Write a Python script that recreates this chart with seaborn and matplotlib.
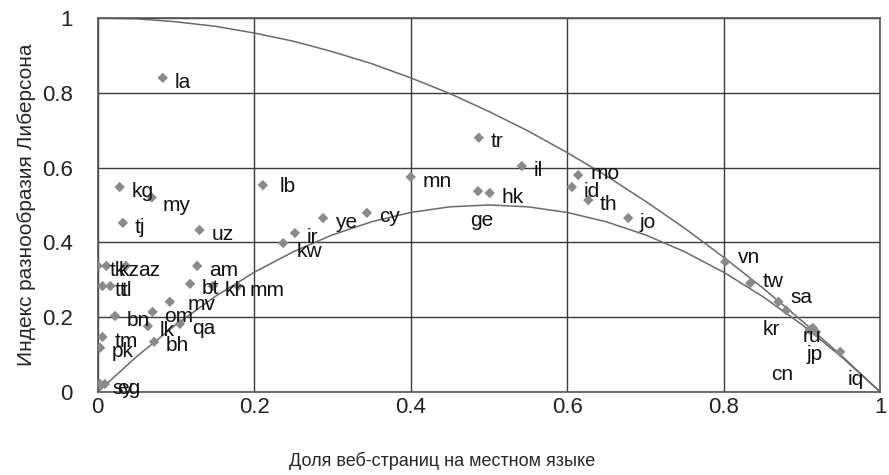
import numpy as np
import pandas as pd
import matplotlib
matplotlib.use('Agg')
import matplotlib.pyplot as plt
import seaborn as sns

# Country codes with web share in local language (x) and Lieberson index (y)
codes = ['la', 'kg', 'my', 'tj', 'uz', 'lb', 'ir', 'kw', 'ye', 'cy', 'mn',
         'tr', 'il', 'ge', 'hk', 'mo', 'id', 'th', 'jo',
         'vn', 'tw', 'sa', 'kr', 'ru', 'jp', 'cn', 'iq',
         'tk', 'kz', 'az', 'tt', 'tl', 'am', 'bt', 'kh', 'mm', 'mv',
         'bn', 'om', 'lk', 'qa', 'bh', 'tm', 'pk', 'sy', 'eg']
share = [0.083, 0.028, 0.069, 0.032, 0.130, 0.211, 0.252, 0.237, 0.288, 0.344, 0.400,
         0.487, 0.542, 0.486, 0.501, 0.614, 0.606, 0.627, 0.678,
         0.802, 0.834, 0.870, 0.880, 0.914, 0.918, 0.910, 0.949,
         0.000, 0.011, 0.036, 0.006, 0.016, 0.127, 0.118, 0.147, 0.179, 0.092,
         0.022, 0.070, 0.064, 0.105, 0.072, 0.006, 0.003, 0.003, 0.009]
lieberson = [0.840, 0.548, 0.520, 0.452, 0.433, 0.553, 0.425, 0.398, 0.465, 0.479, 0.575,
             0.680, 0.604, 0.537, 0.532, 0.580, 0.548, 0.513, 0.465,
             0.348, 0.291, 0.241, 0.218, 0.171, 0.160, 0.166, 0.107,
             0.337, 0.337, 0.337, 0.283, 0.283, 0.337, 0.289, 0.283, 0.283, 0.241,
             0.203, 0.214, 0.176, 0.182, 0.134, 0.147, 0.118, 0.021, 0.021]

# reference curves
curve_x = [0.0, 0.05, 0.1, 0.15, 0.2, 0.25, 0.3, 0.35, 0.4, 0.45, 0.5,
           0.55, 0.6, 0.65, 0.7, 0.75, 0.8, 0.85, 0.9, 0.95, 1.0]
upper_y = [1.0, 0.998, 0.99, 0.978, 0.96, 0.938, 0.91, 0.878, 0.84, 0.798, 0.75,
           0.698, 0.64, 0.578, 0.51, 0.438, 0.36, 0.278, 0.19, 0.098, 0.0]
lower_y = [0.0, 0.095, 0.18, 0.255, 0.32, 0.375, 0.42, 0.455, 0.48, 0.495, 0.5,
           0.495, 0.48, 0.455, 0.42, 0.375, 0.32, 0.255, 0.18, 0.095, 0.0]

ticks = [0, 0.2, 0.4, 0.6, 0.8, 1]
tick_labels = ['0', '0.2', '0.4', '0.6', '0.8', '1']

# label placement tweaks (points), default is to the right of the marker
label_offsets = {
    'my': (8, -6), 'ge': (-6, -21), 'mo': (9, 1), 'vn': (9, 3), 'tw': (9, 1),
    'sa': (9, 3), 'kr': (-17, -14), 'ru': (-7, -6.5), 'jp': (-7, -16),
    'cn': (-28, -32), 'iq': (5, -20), 'kw': (10, -6), 'lb': (12, -1), 'mv': (13, -2),
}

sns.set_style('white')
plt.rcParams['font.family'] = ['Liberation Sans', 'DejaVu Sans']

df = pd.DataFrame({'code': codes, 'share': share, 'index': lieberson})
curves = pd.DataFrame({'x': curve_x, 'upper': upper_y, 'lower': lower_y})

fig = plt.figure(figsize=(8.89, 4.75), dpi=100)
ax = fig.add_axes([0.110, 0.175, 0.880, 0.787])

sns.lineplot(data=curves, x='x', y='upper', ax=ax, color='#6a6a6a', lw=1.1, sort=False, estimator=None)
sns.lineplot(data=curves, x='x', y='lower', ax=ax, color='#6a6a6a', lw=1.1, sort=False, estimator=None)
sns.scatterplot(data=df, x='share', y='index', ax=ax, color='#8a8a8a', marker='D',
                s=28, edgecolor='none', zorder=3)

for c, xv, yv in zip(codes, share, lieberson):
    dx, dy = label_offsets.get(c, (8.5, -3))
    ax.annotate(c, (xv, yv), xytext=(dx, dy), textcoords='offset points',
                ha='left', va='center', fontsize=15, color='#111111', zorder=4)

ax.set_xlim(0, 1)
ax.set_ylim(0, 1)
ax.set_xticks(ticks)
ax.set_xticklabels(tick_labels)
ax.set_yticks(ticks)
ax.set_yticklabels(tick_labels)
ax.tick_params(axis='both', length=0, labelsize=16, colors='#222222')
ax.tick_params(axis='y', pad=18)
ax.tick_params(axis='x', pad=4)
ax.grid(True, color='#3a3a3a', lw=1.0)
for s in ax.spines.values():
    s.set_color('#555555')
    s.set_linewidth(1.2)

ax.set_xlabel('Доля веб-страниц на местном языке', fontsize=13)
ax.xaxis.set_label_coords(0.44, -0.16)
ax.set_ylabel('Индекс разнообразия Либерсона', fontsize=15, labelpad=4)

fig.savefig('out.png', dpi=100)
